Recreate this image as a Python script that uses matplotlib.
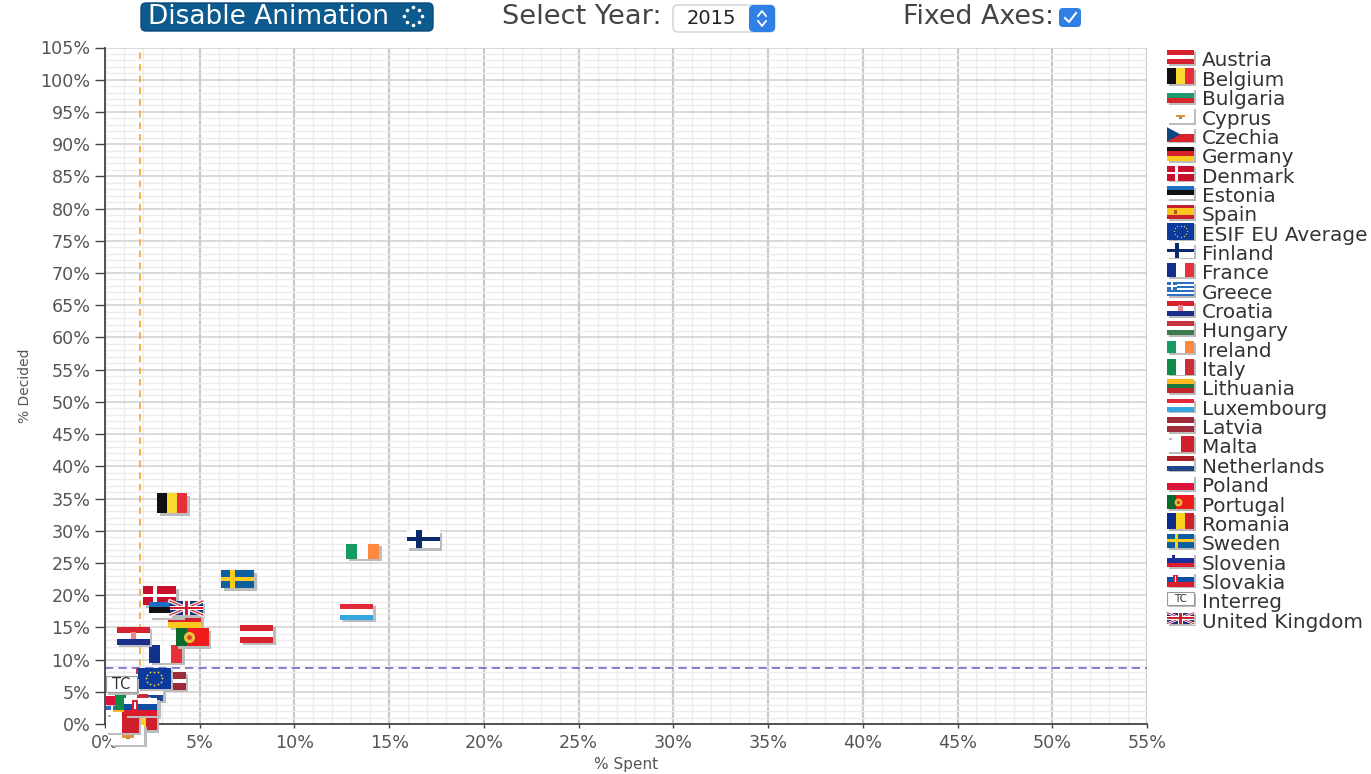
import numpy as np
import matplotlib
matplotlib.use("Agg")
import matplotlib.pyplot as plt
from matplotlib.lines import Line2D
from matplotlib.patches import Rectangle, Polygon, FancyBboxPatch
from matplotlib.ticker import MultipleLocator, FuncFormatter
from matplotlib.transforms import Affine2D, ScaledTranslation

W, H = 1371, 774

# legend order
countries = ["Austria", "Belgium", "Bulgaria", "Cyprus", "Czechia", "Germany", "Denmark",
             "Estonia", "Spain", "ESIF EU Average", "Finland", "France", "Greece", "Croatia",
             "Hungary", "Ireland", "Italy", "Lithuania", "Luxembourg", "Latvia", "Malta",
             "Netherlands", "Poland", "Portugal", "Romania", "Sweden", "Slovenia", "Slovakia",
             "Interreg", "United Kingdom"]
spent = [8.0, 3.55, 1.8, 1.2, 1.9, 4.2, 2.9, 3.2, 2.6, 2.6, 16.8, 3.2, 0.9, 1.5, 2.5,
         13.6, 1.4, 1.3, 13.3, 3.4, 0.9, 2.2, 0.9, 4.6, 1.85, 7.0, 1.95, 1.9, 0.85, 4.3]
decided = [14.0, 34.3, 2.3, -1.7, 3.0, 16.3, 19.9, 17.7, 6.9, 7.1, 28.7, 10.9, 1.4, 13.7, 7.3,
           26.8, 3.1, 0.8, 17.4, 6.7, 0.3, 5.0, 4.3, 13.5, 0.6, 22.5, 2.6, 2.7, 6.2, 18.0]
# which flag lies over which in the scatter (bottom first)
draw_order = ["Hungary", "Spain", "Bulgaria", "Czechia", "Slovenia", "Latvia", "Poland", "Greece",
              "Netherlands", "Italy", "Lithuania", "Romania", "Cyprus", "Malta", "Slovakia",
              "ESIF EU Average", "Interreg", "Denmark", "Germany", "Estonia", "United Kingdom",
              "France", "Croatia", "Portugal", "Austria", "Luxembourg", "Sweden", "Ireland",
              "Finland", "Belgium"]

avg_spent = 1.85
avg_decided = 8.7

x_ticks_max = 55
y_ticks_max = 105

# flag height in px for a 33 px wide flag
flag_h = {"Belgium": 20, "ESIF EU Average": 21, "Denmark": 19, "Ireland": 15, "Luxembourg": 16,
          "Interreg": 16, "United Kingdom": 14, "Estonia": 16, "Cyprus": 20, "Malta": 21,
          "Romania": 20, "Italy": 20, "France": 18}

RED = "#d8232f"
stripes = {
    "Austria": ("h", [RED, "white", RED]),
    "Belgium": ("v", ["#111111", "#fbd92e", "#e8303a"]),
    "Bulgaria": ("h", ["white", "#1f9a6e", "#d6262b"]),
    "Cyprus": ("h", ["white"]),
    "Czechia": ("h", ["white", "#d6262b"]),
    "Germany": ("h", ["#111111", "#d8202a", "#fbc91e"]),
    "Denmark": ("h", ["#c8102e"]),
    "Estonia": ("h", ["#1a6fc0", "#111111", "white"]),
    "Spain": ("h", ["#c8202a", "#fbc41e", "#fbc41e", "#c8202a"]),
    "ESIF EU Average": ("h", ["#0b3a9c"]),
    "Finland": ("h", ["white"]),
    "France": ("v", ["#12308c", "white", "#e8303a"]),
    "Greece": ("h", ["#2a6fc0", "white", "#2a6fc0", "white", "#2a6fc0", "white", "#2a6fc0"]),
    "Croatia": ("h", ["#d8232f", "white", "#1a2f8c"]),
    "Hungary": ("h", ["#c8343c", "white", "#3f7a4f"]),
    "Ireland": ("v", ["#169b62", "white", "#ff883e"]),
    "Italy": ("v", ["#0f8c45", "white", "#cd2b37"]),
    "Lithuania": ("h", ["#fbb91e", "#1a7a40", "#c1272d"]),
    "Luxembourg": ("h", ["#e3283a", "white", "#35a6e0"]),
    "Latvia": ("h", ["#9e2a3a", "#9e2a3a", "white", "#9e2a3a", "#9e2a3a"]),
    "Malta": ("v", ["white", "#cf1f2c"]),
    "Netherlands": ("h", ["#ae1c28", "white", "#21468b"]),
    "Poland": ("h", ["white", "#dc143c"]),
    "Portugal": ("v", ["#0a6a2c", "#ef1c1c", "#ef1c1c"]),
    "Romania": ("v", ["#0b2a8c", "#fbd31e", "#cf1f2c"]),
    "Sweden": ("h", ["#0f5f9c"]),
    "Slovenia": ("h", ["white", "#1a2f9c", "#dc1c2c"]),
    "Slovakia": ("h", ["white", "#0b4ea2", "#dc1c2c"]),
    "Interreg": ("h", ["white"]),
    "United Kingdom": ("h", ["#1a2f7c"]),
}


def add_rect(ax, T, x, y, w, h, color, z):
    ax.add_patch(Rectangle((x, y), w, h, transform=T, fc=color, ec="none", lw=0,
                           clip_on=False, zorder=z))


def add_line(ax, T, xs, ys, color, lw, z, **kw):
    ax.add_line(Line2D(xs, ys, transform=T, color=color, lw=lw, clip_on=False, zorder=z, **kw))


def draw_flag(ax, name, T, z, scale=1.0):
    # T maps the unit square onto the flag
    kind, cols = stripes[name]
    n = len(cols)
    for i, c in enumerate(cols):
        if kind == "h":
            add_rect(ax, T, 0, 1 - (i + 1) / n, 1, 1 / n, c, z)
        else:
            add_rect(ax, T, i / n, 0, 1 / n, 1, c, z)

    z2 = z + 0.1
    if name == "Denmark":
        add_rect(ax, T, 0.28, 0, 0.12, 1, "white", z2)
        add_rect(ax, T, 0, 0.42, 1, 0.16, "white", z2)
    elif name == "Finland":
        add_rect(ax, T, 0.28, 0, 0.17, 1, "#0b2a6c", z2)
        add_rect(ax, T, 0, 0.38, 1, 0.24, "#0b2a6c", z2)
    elif name == "Sweden":
        add_rect(ax, T, 0.28, 0, 0.14, 1, "#fbcc1e", z2)
        add_rect(ax, T, 0, 0.41, 1, 0.18, "#fbcc1e", z2)
    elif name == "Czechia":
        ax.add_patch(Polygon([(0, 0), (0.5, 0.5), (0, 1)], transform=T, fc="#11457e", lw=0,
                             clip_on=False, zorder=z2))
    elif name == "Greece":
        add_rect(ax, T, 0, 0.43, 0.38, 0.57, "#2a6fc0", z2)
        add_rect(ax, T, 0.15, 0.43, 0.08, 0.57, "white", z2 + 0.1)
        add_rect(ax, T, 0, 0.66, 0.38, 0.11, "white", z2 + 0.1)
    elif name == "Croatia":
        add_rect(ax, T, 0.42, 0.3, 0.16, 0.42, "#e88a90", z2)
    elif name == "Spain":
        add_rect(ax, T, 0.25, 0.38, 0.12, 0.24, "#b5561c", z2)
    elif name == "Cyprus":
        add_rect(ax, T, 0.34, 0.36, 0.34, 0.12, "#e0913a", z2)
        add_rect(ax, T, 0.45, 0.28, 0.12, 0.08, "#7a9a5a", z2)
    elif name == "Malta":
        add_rect(ax, T, 0.07, 0.74, 0.1, 0.12, "#b5b5b5", z2)
    elif name == "Slovakia":
        add_rect(ax, T, 0.22, 0.22, 0.2, 0.62, "#dc1c2c", z2)
        add_rect(ax, T, 0.3, 0.34, 0.05, 0.4, "white", z2 + 0.1)
    elif name == "Slovenia":
        add_rect(ax, T, 0.18, 0.55, 0.12, 0.3, "#1a2f9c", z2)
    elif name == "Portugal":
        add_line(ax, T, [0.39], [0.5], "#e8c23a", 0, z2, marker="o", ms=8 * scale,
                 mfc="#e8c23a", mec="none")
        add_line(ax, T, [0.39], [0.5], "white", 0, z2 + 0.1, marker="o", ms=3.5 * scale,
                 mfc="#e04030", mec="none")
    elif name == "ESIF EU Average":
        a = np.linspace(0, 2 * np.pi, 12, endpoint=False)
        add_line(ax, T, 0.5 + 0.24 * np.cos(a), 0.5 + 0.32 * np.sin(a), "none", 0, z2,
                 marker="o", ms=1.3 * scale, mfc="#f2d640", mec="none")
    elif name == "Interreg":
        ax.add_patch(Rectangle((0, 0), 1, 1, transform=T, fc="none", ec="#999999", lw=0.8,
                               clip_on=False, zorder=z2))
        ax.text(0.5, 0.48, "TC", transform=T, ha="center", va="center", color="#333333",
                fontsize=10.5 * scale, clip_on=False, zorder=z2)
    elif name == "United Kingdom":
        for xs in ([0, 1], [1, 0]):
            add_line(ax, T, xs, [0, 1], "white", 2.6 * scale, z2)
            add_line(ax, T, xs, [0, 1], "#d02030", 0.9 * scale, z2 + 0.05)
        add_rect(ax, T, 0.4, 0, 0.2, 1, "white", z2 + 0.1)
        add_rect(ax, T, 0, 0.33, 1, 0.34, "white", z2 + 0.1)
        add_rect(ax, T, 0.45, 0, 0.1, 1, "#d02030", z2 + 0.2)
        add_rect(ax, T, 0, 0.4, 1, 0.2, "#d02030", z2 + 0.2)


def flag_with_shadow(ax, name, T_base, w, h, z, scale=1.0):
    shadow = Affine2D().scale(w, h).translate(-w / 2 + 2.5 * scale, -h / 2 - 2.5 * scale) + T_base
    add_rect(ax, shadow, 0, 0, 1, 1, "#bcbcbc", z - 0.2)
    T = Affine2D().scale(w, h).translate(-w / 2, -h / 2) + T_base
    draw_flag(ax, name, T, z, scale)


fig = plt.figure(figsize=(W / 100, H / 100), dpi=100, facecolor="white")
ax = fig.add_axes([105 / W, 1 - 724 / H, (1147 - 105) / W, (724 - 47.5) / H])
ax.set_xlim(0, x_ticks_max)
ax.set_ylim(0, y_ticks_max)
ax.set_axisbelow(True)

ax.xaxis.set_major_locator(MultipleLocator(5))
ax.yaxis.set_major_locator(MultipleLocator(5))
ax.xaxis.set_minor_locator(MultipleLocator(1))
ax.yaxis.set_minor_locator(MultipleLocator(1))
pct = FuncFormatter(lambda v, _: f"{v:.0f}%")
ax.xaxis.set_major_formatter(pct)
ax.yaxis.set_major_formatter(pct)

ax.grid(which="minor", color="#ececec", lw=1.0)
ax.grid(which="major", axis="x", color="#c9c9c9", lw=1.6)
ax.grid(which="major", axis="y", color="#cfcfcf", lw=1.1)
ax.tick_params(which="minor", length=0)
ax.tick_params(axis="y", which="major", length=7, width=1, color="#444444",
               labelcolor="#555555", labelsize=12.6, pad=3.5)
ax.tick_params(axis="x", which="major", length=3, width=1, color="#444444",
               labelcolor="#555555", labelsize=12.6, pad=4)
for s in ["top", "right"]:
    ax.spines[s].set_visible(False)
for s in ["left", "bottom"]:
    ax.spines[s].set_color("#444444")
    ax.spines[s].set_linewidth(1.3)

ax.axvline(avg_spent, color="#f0a830", lw=1.2, ls=(0, (4, 3)), zorder=2)
ax.axhline(avg_decided, color="#6c6cc8", lw=1.2, ls=(0, (5, 3)), zorder=2)

ax.set_xlabel("% Spent", fontsize=11, color="#555555")
ax.set_ylabel("% Decided", fontsize=10, color="#555555")
ax.xaxis.set_label_coords(0.5, -0.049)
ax.yaxis.set_label_coords(-0.07, 0.5)

# flags placed on the data
for rank, name in enumerate(draw_order):
    i = countries.index(name)
    base = ScaledTranslation(spent[i], decided[i], ax.transData)
    w = 30 if name == "Belgium" else 31 if name == "Interreg" else 33
    flag_with_shadow(ax, name, base, w, flag_h.get(name, 18), 10 + rank)

# legend, laid out in pixels from the top left corner
for i, name in enumerate(countries):
    y_txt = 61 + i * 19.35
    h_leg = flag_h.get(name, 18) * 0.8
    base = Affine2D().translate(1180.5, H - (y_txt - 4))
    flag_with_shadow(ax, name, base, 27, h_leg, 50, scale=0.7)
    fig.text(1202 / W, 1 - y_txt / H, name, fontsize=14.4, color="#333333", va="center", ha="left")

# controls above the chart
PX = Affine2D().scale(1, -1).translate(0, H)
fig.add_artist(FancyBboxPatch((141, 3), 292, 28, boxstyle="round,pad=0,rounding_size=5",
                              fc="#0c5a8e", ec="#0a4a78", lw=1, transform=PX))
fig.text(148 / W, 1 - 17 / H, "Disable Animation", color="white", fontsize=19, va="center")
ang = np.linspace(0, 2 * np.pi, 8, endpoint=False)
fig.add_artist(Line2D(413 + 9 * np.cos(ang), 16 + 9 * np.sin(ang), transform=PX, ls="none",
                      marker="o", ms=2.6, mfc="white", mec="none"))

fig.text(502 / W, 1 - 17 / H, "Select Year:", color="#444444", fontsize=19.6, va="center")
fig.add_artist(FancyBboxPatch((673, 5), 102, 27, boxstyle="round,pad=0,rounding_size=5",
                              fc="white", ec="#d0d0d0", lw=1, transform=PX))
fig.add_artist(FancyBboxPatch((749, 5), 26, 27, boxstyle="round,pad=0,rounding_size=5",
                              fc="#2f80e4", ec="none", transform=PX))
fig.add_artist(Line2D([758, 762, 766], [16, 11, 16], transform=PX, color="white", lw=1.3))
fig.add_artist(Line2D([758, 762, 766], [21, 26, 21], transform=PX, color="white", lw=1.3))
fig.text(687 / W, 1 - 18.5 / H, "2015", color="#222222", fontsize=14, va="center")

fig.text(903 / W, 1 - 17 / H, "Fixed Axes:", color="#444444", fontsize=19.4, va="center")
fig.add_artist(FancyBboxPatch((1059, 8), 22, 19, boxstyle="round,pad=0,rounding_size=4",
                              fc="#2f80e4", ec="none", transform=PX))
fig.add_artist(Line2D([1065, 1069, 1076], [18, 22, 13], transform=PX, color="white", lw=1.5))

fig.savefig("out.png", dpi=100)
